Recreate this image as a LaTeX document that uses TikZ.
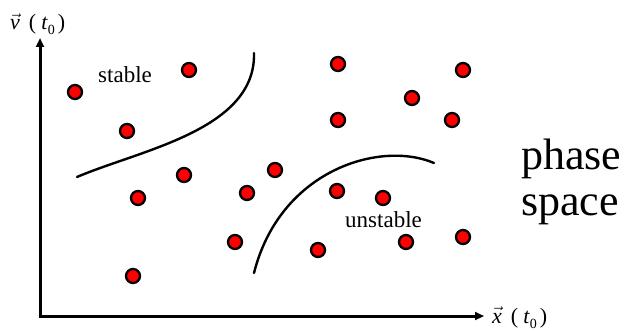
\documentclass[tikz,border=0pt]{standalone}
\usepackage{fontspec}
\setmainfont{Liberation Serif}
\usetikzlibrary{arrows.meta}
\newcommand\myvec[1]{\ensuremath{\vec{\mbox{\itshape #1}}}}
\newcommand\myarg{\hspace{9pt}(\hspace{5pt}\textit{t}\raisebox{-5pt}{\fontsize{14}{14}\selectfont 0}\hspace{3pt})}
\begin{document}
\begin{tikzpicture}[x=1pt,y=-1pt,
  dot/.style={circle,draw=black,fill=red,line width=2.3pt,minimum size=14pt,inner sep=0pt},
  axis/.style={line width=3pt,-{Triangle[length=9pt,width=8pt]}},
  bound/.style={line width=2.4pt,line cap=round},
  lbl/.style={font=\fontsize{23}{26}\selectfont,inner sep=0pt,anchor=base west},
  axlbl/.style={font=\fontsize{22}{24}\selectfont,inner sep=0pt,anchor=base west},
  big/.style={font=\fontsize{44}{48}\selectfont,inner sep=0pt,anchor=base west}]
\useasboundingbox (0,0) rectangle (629,331);
\coordinate (o) at (40,316);
\coordinate (ytip) at (40,38);
\coordinate (xtip) at (484,316);
\draw[axis] (o) -- (ytip);
\draw[axis] ([xshift=-1.5pt]o) -- (xtip);
\node[axlbl] (vl) at (10,30) {\myvec{v}\myarg};
\node[axlbl] (xl) at (492,323) {\myvec{x}\myarg};
% boundaries
\coordinate (s1) at (77,177);
\coordinate (s2) at (254,53);
\draw[bound] (s1) .. controls (140,150) and (256,130) .. (s2);
\coordinate (u1) at (254,273);
\coordinate (u2) at (434,163);
\draw[bound] (u1) .. controls (280,170) and (380,140) .. (u2);
% labels
\node[lbl] (st) at (98,83) {stable};
\node[lbl] (un) at (345,228) {unstable};
\node[big] (ph) at (521,170) {phase};
\node[big] (sp) at (521,215) {space};
% dots
\foreach \i/\x/\y in {1/75/92,2/189/70,3/127/131,4/338/64,5/463/70,6/412/98,7/338/120,8/452/120,
  9/138/198,10/184/175,11/247/193,12/275/170,13/337/191,14/383/198,15/235/242,16/318/250,
  17/406/242,18/463/237,19/133/276}
  \node[dot] (d\i) at (\x,\y) {};
\end{tikzpicture}
\end{document}
